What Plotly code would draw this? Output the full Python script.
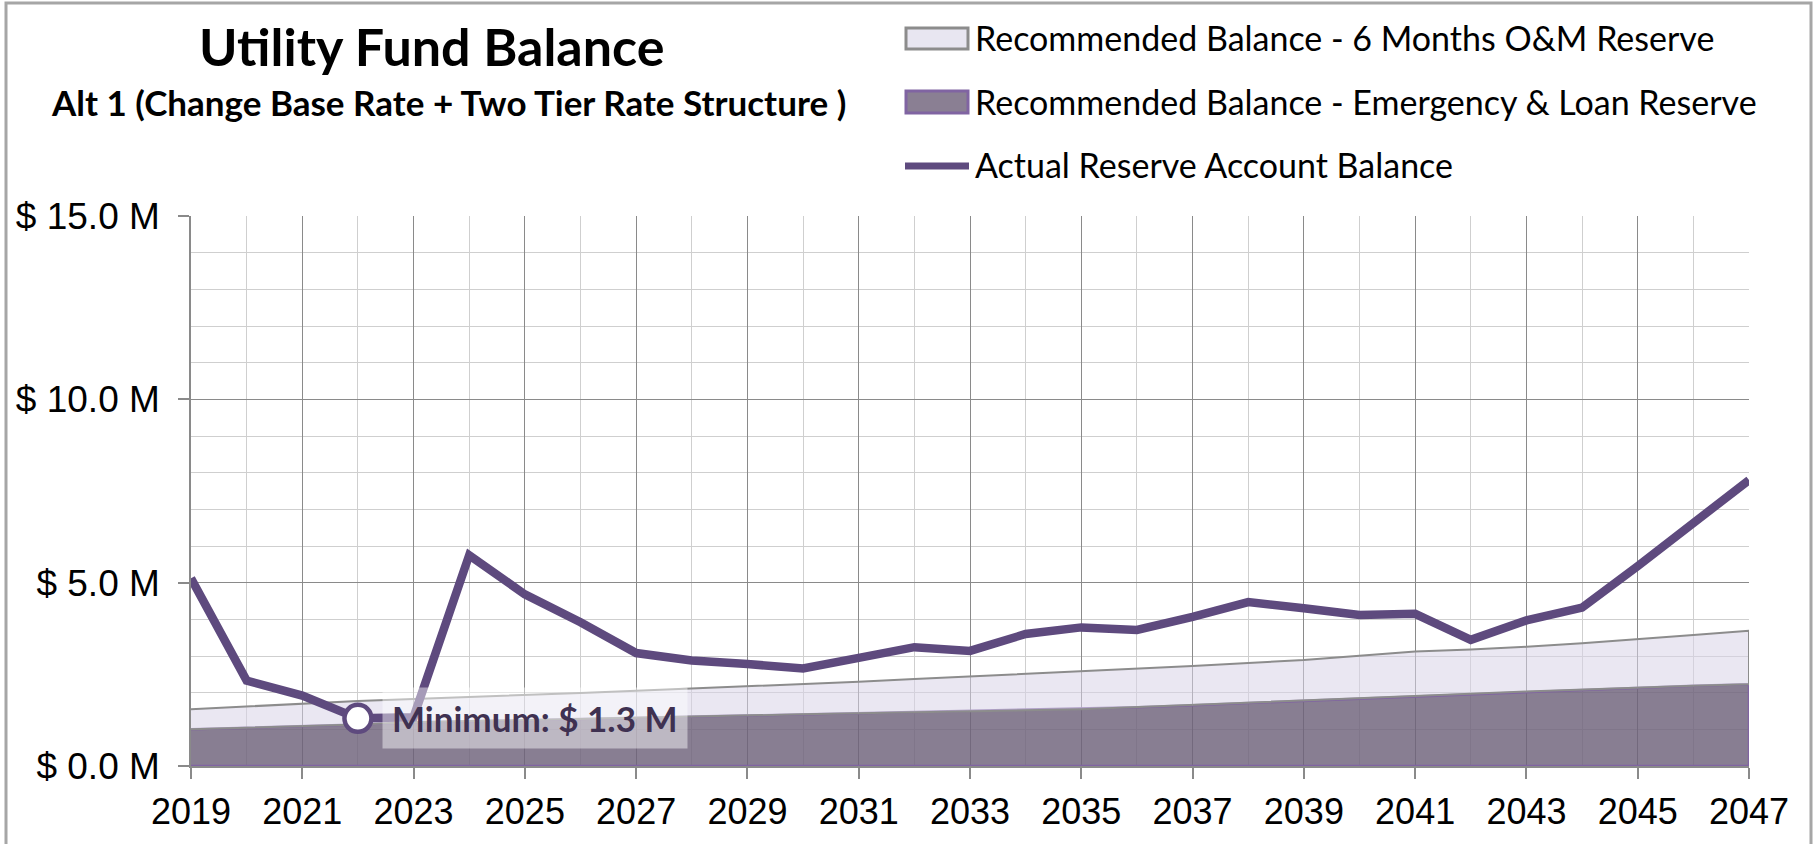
import plotly.graph_objects as go

# ---- data ($ millions) ----
years = list(range(2019, 2048))
actual_balance = [5.12, 2.33, 1.92, 1.30, 1.33, 5.75, 4.68, 3.92, 3.08, 2.88,
                  2.78, 2.66, 2.95, 3.24, 3.14, 3.60, 3.78, 3.71, 4.07, 4.47,
                  4.30, 4.12, 4.15, 3.44, 3.97, 4.32, 5.45, 6.64, 7.80]
emergency_loan_reserve = [1.00, 1.04, 1.08, 1.13, 1.19, 1.22, 1.25, 1.29, 1.33, 1.36,
                          1.38, 1.41, 1.44, 1.47, 1.50, 1.52, 1.55, 1.60, 1.66, 1.72,
                          1.78, 1.84, 1.91, 1.97, 2.03, 2.09, 2.14, 2.19, 2.23]
om_reserve_6mo = [0.55, 0.59, 0.63, 0.64, 0.64, 0.66, 0.67, 0.70, 0.72, 0.75,
                  0.78, 0.83, 0.86, 0.90, 0.94, 0.98, 1.02, 1.05, 1.07, 1.09,
                  1.11, 1.17, 1.21, 1.21, 1.22, 1.26, 1.31, 1.38, 1.46]

title_text = "Utility Fund Balance"
subtitle_text = "Alt 1 (Change Base Rate + Two Tier Rate Structure )"
legend_labels = ["Recommended Balance - 6 Months O&M Reserve",
                 "Recommended Balance - Emergency & Loan Reserve",
                 "Actual Reserve Account Balance"]

# ---- styling ----
W, H = 1817, 844
L, R, T, B = 191, 68, 216, 78
PW, PH = W - L - R, H - T - B

LINE_PURPLE = "#5E4A7E"
EDGE_PURPLE = "#8064A2"
LOW_FILL = "rgba(110,97,122,0.82)"
LOW_SWATCH = "#8A7F93"
HIGH_FILL = "rgba(216,212,232,0.55)"
HIGH_SWATCH = "#E8E6F1"
EDGE_GRAY = "#8C8C8C"
TEXT_FONT = "Lato, Calibri, 'Open Sans', sans-serif"
AXIS_FONT = "'Liberation Sans', Arial, sans-serif"


def px(x):
    return (x - L) / PW


def py(y):
    return (H - B - y) / PH


stack_top = [a + b for a, b in zip(emergency_loan_reserve, om_reserve_6mo)]

fig = go.Figure()

# Emergency & loan reserve band (outlined polygon down to zero)
fig.add_trace(go.Scatter(
    x=years + [years[-1], years[0]],
    y=emergency_loan_reserve + [0, 0],
    fill="toself", fillcolor=LOW_FILL,
    line=dict(color=EDGE_PURPLE, width=2.5),
    mode="lines", hoverinfo="skip", showlegend=False,
))

# 6-month O&M reserve band stacked above it
fig.add_trace(go.Scatter(
    x=years + years[::-1],
    y=stack_top + emergency_loan_reserve[::-1],
    fill="toself", fillcolor=HIGH_FILL,
    line=dict(color=EDGE_GRAY, width=2),
    mode="lines", hoverinfo="skip", showlegend=False,
))

# Actual reserve balance
fig.add_trace(go.Scatter(
    x=years, y=actual_balance, mode="lines",
    line=dict(color=LINE_PURPLE, width=8.5),
    hoverinfo="x+y", showlegend=False,
))

# Minimum point marker
i_min = min(range(len(actual_balance)), key=lambda i: actual_balance[i])
min_year, min_val = years[i_min], actual_balance[i_min]
fig.add_trace(go.Scatter(
    x=[min_year], y=[min_val], mode="markers",
    marker=dict(size=27, color="white", line=dict(color=LINE_PURPLE, width=4.5)),
    hoverinfo="skip", showlegend=False,
))

grid_major = "#8A8A8A"
grid_minor = "#CFCFCF"

fig.update_xaxes(
    range=[2019, 2047], tick0=2019, dtick=2, automargin=False,
    showgrid=True, gridcolor=grid_major, gridwidth=1.3,
    ticks="outside", ticklen=11, tickcolor="#8A8A8A", tickwidth=1.5,
    showline=True, linecolor="#8A8A8A", linewidth=1.5,
    zeroline=False,
    tickfont=dict(family=AXIS_FONT, size=36, color="black"),
    ticklabelstandoff=2,
    minor=dict(tick0=2019, dtick=1, showgrid=True, gridcolor=grid_minor, gridwidth=1.3),
)
fig.update_yaxes(
    range=[0, 15], tick0=0, dtick=5, automargin=False,
    tickprefix="$ ", ticksuffix=" M", tickformat=".1f",
    showgrid=True, gridcolor=grid_major, gridwidth=1.3,
    ticks="outside", ticklen=11, tickcolor="#8A8A8A", tickwidth=1.5,
    showline=True, linecolor="#8A8A8A", linewidth=1.5,
    zeroline=False,
    tickfont=dict(family=AXIS_FONT, size=37, color="black"),
    ticklabelstandoff=11,
    minor=dict(tick0=0, dtick=1, showgrid=True, gridcolor=grid_minor, gridwidth=1.3),
)

shapes = [
    # outer chart border
    dict(type="rect", xref="paper", yref="paper",
         x0=px(6), x1=px(1811), y0=py(870), y1=py(3),
         line=dict(color="#A6A6A6", width=3), fillcolor="rgba(0,0,0,0)", layer="below"),
    # legend swatches
    dict(type="rect", xref="paper", yref="paper",
         x0=px(906), x1=px(968), y0=py(49), y1=py(28),
         line=dict(color=EDGE_GRAY, width=3), fillcolor=HIGH_SWATCH),
    dict(type="rect", xref="paper", yref="paper",
         x0=px(906), x1=px(968), y0=py(113), y1=py(91),
         line=dict(color=EDGE_PURPLE, width=3), fillcolor=LOW_SWATCH),
    dict(type="line", xref="paper", yref="paper",
         x0=px(905), x1=px(969), y0=py(166), y1=py(166),
         line=dict(color=LINE_PURPLE, width=7)),
]

annotations = [
    dict(text=f"<b>{title_text}</b>", xref="paper", yref="paper",
         x=px(431), y=py(46), xanchor="center", yanchor="middle", showarrow=False,
         font=dict(family=TEXT_FONT, size=52, color="black")),
    dict(text=f"<b>{subtitle_text}</b>", xref="paper", yref="paper",
         x=px(448), y=py(102), xanchor="center", yanchor="middle", showarrow=False,
         font=dict(family=TEXT_FONT, size=35, color="black")),
]
for label, yc in zip(legend_labels, [37, 101, 165]):
    annotations.append(dict(
        text=label, xref="paper", yref="paper", x=px(973), y=py(yc),
        xanchor="left", yanchor="middle", showarrow=False,
        font=dict(family=TEXT_FONT, size=34, color="black")))

annotations.append(dict(
    text=f"<b>Minimum: $ {min_val:.1f} M</b>", x=min_year, y=min_val,
    xref="x", yref="y", xanchor="left", yanchor="middle", xshift=24,
    showarrow=False, bgcolor="rgba(255,255,255,0.45)", borderpad=9,
    font=dict(family=TEXT_FONT, size=35, color="#3F3151")))

fig.update_layout(
    width=W, height=H,
    margin=dict(l=L, r=R, t=T, b=B, pad=0),
    paper_bgcolor="white", plot_bgcolor="white",
    shapes=shapes, annotations=annotations,
    showlegend=False,
)

fig.write_html("out.html")
